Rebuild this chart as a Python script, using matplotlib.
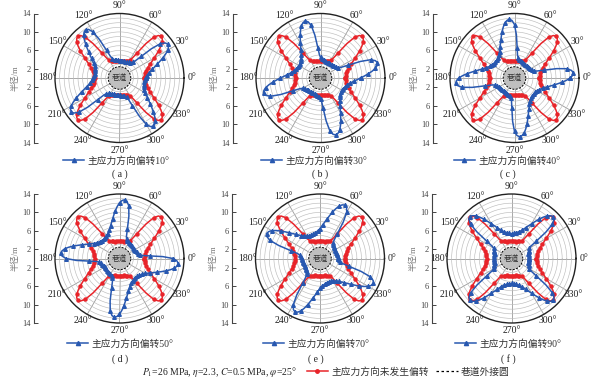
import numpy as np
import matplotlib.pyplot as plt
from matplotlib.lines import Line2D

plt.rcParams['font.family'] = ['Liberation Serif', 'Noto Sans CJK SC']
plt.rcParams['mathtext.fontset'] = 'stix'

# plastic zone radius (m) every 2.5 deg over 0-177.5 deg;
# the zone is centrally symmetric, so the same values repeat for 180-357.5 deg
angles = np.arange(0, 360, 2.5)

r_none = [5.4, 5.42, 5.47, 5.55, 5.66, 5.8, 5.98, 6.2, 6.5, 6.9, 7.4, 8.0, 8.7, 9.5, 10.4, 11.3,
          12.1, 12.6, 12.8, 12.5, 11.6, 9.4, 6.6, 5.0, 4.5, 4.25, 4.1, 4.0, 3.93, 3.87, 3.82, 3.78,
          3.75, 3.73, 3.71, 3.7, 3.7,
          3.7, 3.71, 3.73, 3.75, 3.78, 3.82, 3.87, 3.93, 4.0, 4.1, 4.25, 4.5, 5.0, 6.6, 9.4, 11.6,
          12.5, 12.8, 12.6, 12.1, 11.3, 10.4, 9.5, 8.7, 8.0, 7.4, 6.9, 6.5, 6.2, 5.98, 5.8, 5.66,
          5.55, 5.47, 5.42]

r_10 = [5.66, 5.8, 5.98, 6.2, 6.5, 6.9, 7.4, 8.0, 8.7, 9.5, 10.4, 11.3, 12.1, 12.6, 12.8, 12.5,
        11.6, 9.4, 6.6, 5.0, 4.5, 4.25, 4.1, 4.0, 3.93, 3.87, 3.82, 3.78, 3.75, 3.73, 3.71, 3.7, 3.7,
        3.7, 3.71, 3.73, 3.75, 3.78, 3.82, 3.87, 3.93, 4.0, 4.1, 4.25, 4.5, 5.0, 6.6, 9.4, 11.6,
        12.5, 12.8, 12.6, 12.1, 11.3, 10.4, 9.5, 8.7, 8.0, 7.4, 6.9, 6.5, 6.2, 5.98, 5.8, 5.66,
        5.55, 5.47, 5.42, 5.4, 5.42, 5.47, 5.55]

r_30 = [8.7, 9.5, 10.4, 11.3, 12.1, 12.6, 12.8, 12.5, 11.6, 9.4, 6.6, 5.0, 4.5, 4.25, 4.1, 4.0,
        3.93, 3.87, 3.82, 3.78, 3.75, 3.73, 3.71, 3.7, 3.7,
        3.7, 3.71, 3.73, 3.75, 3.78, 3.82, 3.87, 3.93, 4.0, 4.1, 4.25, 4.5, 5.0, 6.6, 9.4, 11.6,
        12.5, 12.8, 12.6, 12.1, 11.3, 10.4, 9.5, 8.7, 8.0, 7.4, 6.9, 6.5, 6.2, 5.98, 5.8, 5.66,
        5.55, 5.47, 5.42, 5.4, 5.42, 5.47, 5.55, 5.66, 5.8, 5.98, 6.2, 6.5, 6.9, 7.4, 8.0]

r_40 = [12.1, 12.6, 12.8, 12.5, 11.6, 9.4, 6.6, 5.0, 4.5, 4.25, 4.1, 4.0, 3.93, 3.87, 3.82, 3.78,
        3.75, 3.73, 3.71, 3.7, 3.7,
        3.7, 3.71, 3.73, 3.75, 3.78, 3.82, 3.87, 3.93, 4.0, 4.1, 4.25, 4.5, 5.0, 6.6, 9.4, 11.6,
        12.5, 12.8, 12.6, 12.1, 11.3, 10.4, 9.5, 8.7, 8.0, 7.4, 6.9, 6.5, 6.2, 5.98, 5.8, 5.66,
        5.55, 5.47, 5.42, 5.4, 5.42, 5.47, 5.55, 5.66, 5.8, 5.98, 6.2, 6.5, 6.9, 7.4, 8.0, 8.7,
        9.5, 10.4, 11.3]

r_50 = [11.6, 9.4, 6.6, 5.0, 4.5, 4.25, 4.1, 4.0, 3.93, 3.87, 3.82, 3.78, 3.75, 3.73, 3.71, 3.7,
        3.7,
        3.7, 3.71, 3.73, 3.75, 3.78, 3.82, 3.87, 3.93, 4.0, 4.1, 4.25, 4.5, 5.0, 6.6, 9.4, 11.6,
        12.5, 12.8, 12.6, 12.1, 11.3, 10.4, 9.5, 8.7, 8.0, 7.4, 6.9, 6.5, 6.2, 5.98, 5.8, 5.66,
        5.55, 5.47, 5.42, 5.4, 5.42, 5.47, 5.55, 5.66, 5.8, 5.98, 6.2, 6.5, 6.9, 7.4, 8.0, 8.7,
        9.5, 10.4, 11.3, 12.1, 12.6, 12.8, 12.5]

r_70 = [3.93, 3.87, 3.82, 3.78, 3.75, 3.73, 3.71, 3.7, 3.7,
        3.7, 3.71, 3.73, 3.75, 3.78, 3.82, 3.87, 3.93, 4.0, 4.1, 4.25, 4.5, 5.0, 6.6, 9.4, 11.6,
        12.5, 12.8, 12.6, 12.1, 11.3, 10.4, 9.5, 8.7, 8.0, 7.4, 6.9, 6.5, 6.2, 5.98, 5.8, 5.66,
        5.55, 5.47, 5.42, 5.4, 5.42, 5.47, 5.55, 5.66, 5.8, 5.98, 6.2, 6.5, 6.9, 7.4, 8.0, 8.7,
        9.5, 10.4, 11.3, 12.1, 12.6, 12.8, 12.5, 11.6, 9.4, 6.6, 5.0, 4.5, 4.25, 4.1, 4.0]

r_90 = [3.7,
        3.7, 3.71, 3.73, 3.75, 3.78, 3.82, 3.87, 3.93, 4.0, 4.1, 4.25, 4.5, 5.0, 6.6, 9.4, 11.6,
        12.5, 12.8, 12.6, 12.1, 11.3, 10.4, 9.5, 8.7, 8.0, 7.4, 6.9, 6.5, 6.2, 5.98, 5.8, 5.66,
        5.55, 5.47, 5.42, 5.4, 5.42, 5.47, 5.55, 5.66, 5.8, 5.98, 6.2, 6.5, 6.9, 7.4, 8.0, 8.7,
        9.5, 10.4, 11.3, 12.1, 12.6, 12.8, 12.5, 11.6, 9.4, 6.6, 5.0, 4.5, 4.25, 4.1, 4.0, 3.93,
        3.87, 3.82, 3.78, 3.75, 3.73, 3.71, 3.7]

deflections = [10, 30, 40, 50, 70, 90]
blue_series = [r_10, r_30, r_40, r_50, r_70, r_90]
captions = ['( a )', '( b )', '( c )', '( d )', '( e )', '( f )']
roadway_r = 2.3
circum_r = 2.45
r_max = 14

red = '#e8242a'
blue = '#2858b0'

# layout in pixels: polar centre, left axis x, legend x, caption x
W, H = 600, 383
R_PX = 64.5
centres = [(119.5, 78), (320.5, 78), (514.5, 78), (119.5, 258.5), (320, 258.5), (511.5, 258.5)]
axis_x = [34, 233, 433, 34, 232, 432]
leg_x = [116, 314, 507, 120, 316, 508]
cap_x = [120, 320, 508, 120, 316, 508]
leg_y = [161, 161, 161, 344, 344, 344]
cap_y = [174, 174, 174, 359, 359, 359]


def closed(r):
    r = list(r) + list(r)
    return np.array(r + r[:1])


fig = plt.figure(figsize=(6, 3.83), dpi=100)

th = np.deg2rad(np.append(angles, 360))
circ = np.linspace(0, 2 * np.pi, 181)

for i in range(6):
    cx, cy = centres[i]
    ax = fig.add_axes([(cx - R_PX) / W, 1 - (cy + R_PX) / H, 2 * R_PX / W, 2 * R_PX / H],
                      projection='polar')
    ax.set_ylim(0, r_max)
    ax.set_yticks(np.arange(2, 14, 1))
    ax.set_yticklabels([])
    ax.set_thetagrids(np.arange(0, 360, 30), labels=[f'{a}°' for a in range(0, 360, 30)],
                      fontsize=7, color='#222')
    ax.tick_params(axis='x', length=0, pad=-1.5)
    ax.xaxis.grid(True, color='#9a9a9a', lw=0.6)
    ax.yaxis.grid(True, color='#bcbcbc', lw=0.45)
    ax.spines['polar'].set_linewidth(1.0)
    ax.spines['polar'].set_color('#222')

    ax.fill(circ, np.full(circ.size, roadway_r), color='#bfbfbf', zorder=3)
    ax.plot(circ, np.full(circ.size, circum_r), color='k', ls=(0, (2, 1.5)), lw=0.7, zorder=3)
    ax.text(0, 0, '巷道', ha='center', va='center', fontsize=5.5, color='#333',
            family='Noto Sans CJK SC', zorder=4)

    ax.plot(th, closed(r_none), color=red, lw=1.1, marker='o', ms=2.2, markevery=2, zorder=5)
    ax.plot(th, closed(blue_series[i]), color=blue, lw=1.1, marker='^', ms=2.6, markevery=2,
            zorder=6)

    # left linear radius axis
    lax = fig.add_axes([axis_x[i] / W, 1 - (cy + R_PX) / H, 0.0001, 2 * R_PX / H])
    lax.patch.set_alpha(0)
    for s in ['top', 'right', 'bottom']:
        lax.spines[s].set_visible(False)
    lax.spines['left'].set_color('#444')
    lax.spines['left'].set_linewidth(0.8)
    lax.set_ylim(-r_max, r_max)
    yt = [14, 10, 6, 2, -2, -6, -10, -14]
    lax.set_yticks(yt)
    lax.set_yticklabels([str(abs(v)) for v in yt])
    lax.set_xticks([])
    lax.tick_params(axis='y', direction='in', length=3, width=0.7, labelsize=6, colors='#444', pad=2)
    fig.text((axis_x[i] - 19) / W, 1 - cy / H, '半径/m', rotation=90, ha='center', va='center',
             fontsize=6, color='#777')

    h = Line2D([], [], color=blue, lw=1.1, marker='^', ms=3)
    fig.legend([h], [f'主应力方向偏转{deflections[i]}°'], loc='center',
               bbox_to_anchor=(leg_x[i] / W, 1 - leg_y[i] / H), frameon=False, fontsize=7,
               handlelength=2.2, handletextpad=0.3, labelcolor='#333')
    fig.text(cap_x[i] / W, 1 - cap_y[i] / H, captions[i], ha='center', va='center', fontsize=7,
             color='#222')

fig.text(142 / W, 1 - 372 / H, r'$P_1$=26 MPa, $\eta$=2.3, $C$=0.5 MPa, $\varphi$=25°',
         ha='left', va='center', fontsize=7, color='#222')
hr = Line2D([], [], color=red, lw=1.1, marker='o', ms=2.5)
hd = Line2D([], [], color='k', lw=0.9, ls=(0, (2, 2)))
fig.legend([hr, hd], ['主应力方向未发生偏转', '巷道外接圆'], loc='center left',
           bbox_to_anchor=(298 / W, 1 - 372 / H), ncol=2, frameon=False, fontsize=7,
           handlelength=2.2, handletextpad=0.3, columnspacing=0.8, labelcolor='#333')

fig.savefig('out.png', dpi=100)
